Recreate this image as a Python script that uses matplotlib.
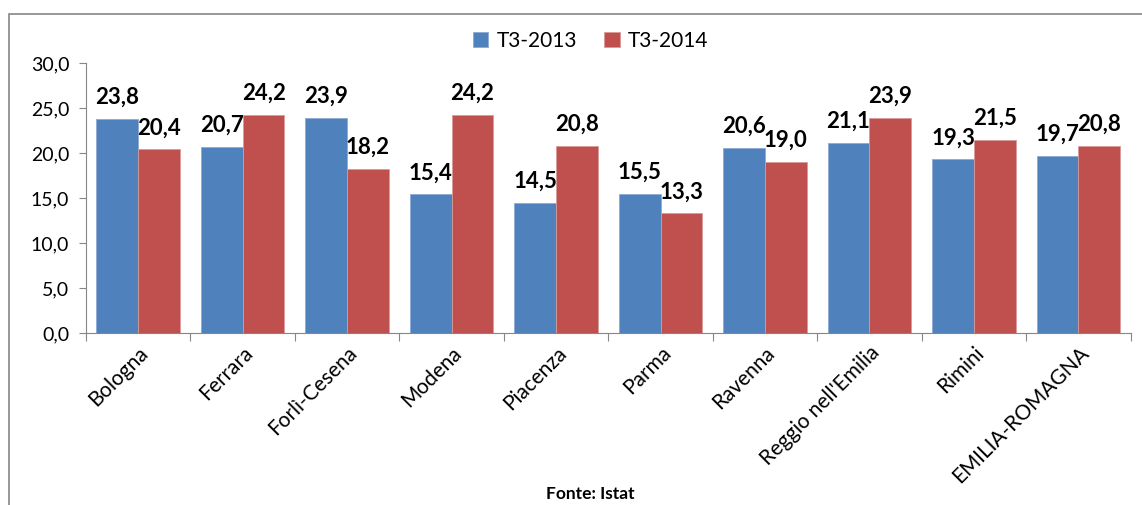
import numpy as np
import matplotlib
matplotlib.use("Agg")
import matplotlib.pyplot as plt
from matplotlib.patches import Rectangle

plt.rcParams['font.family'] = ['Lato', 'DejaVu Sans']

province = ['Bologna', 'Ferrara', 'Forlì-Cesena', 'Modena', 'Piacenza', 'Parma',
            'Ravenna', "Reggio nell'Emilia", 'Rimini', 'EMILIA-ROMAGNA']
t3_2013 = [23.8, 20.7, 23.9, 15.4, 14.5, 15.5, 20.6, 21.1, 19.3, 19.7]
t3_2014 = [20.4, 24.2, 18.2, 24.2, 20.8, 13.3, 19.0, 23.9, 21.5, 20.8]
series = ['T3-2013', 'T3-2014']

blu = '#4F81BD'
rosso = '#C0504D'
grigio = '#868686'

fig = plt.figure(figsize=(11.42, 5.05), dpi=100)
ax = fig.add_axes([0.0753, 0.3406, 0.9147, 0.5344])

x = np.arange(len(province))
w = 0.4
b1 = ax.bar(x - w / 2, t3_2013, w, color=blu, edgecolor='#8EA9D4', linewidth=0.6, label=series[0])
b2 = ax.bar(x + w / 2, t3_2014, w, color=rosso, edgecolor='#D99A98', linewidth=0.6, label=series[1])

for bars, vals in ((b1, t3_2013), (b2, t3_2014)):
    for r, v in zip(bars, vals):
        ax.annotate(f'{v:.1f}'.replace('.', ','),
                    (r.get_x() + r.get_width() / 2, v),
                    xytext=(0, 8), textcoords='offset points',
                    ha='center', va='bottom', fontsize=16, fontweight='bold')

ax.set_xlim(-0.5, len(province) - 0.5)
ax.set_ylim(0, 30)
ax.set_yticks(np.arange(0, 30.1, 5))
ax.set_yticklabels([f'{t:.1f}'.replace('.', ',') for t in np.arange(0, 30.1, 5)], fontsize=14)

# tick tra i gruppi, etichette al centro
ax.set_xticks(np.arange(-0.5, len(province), 1))
ax.set_xticklabels([])
ax.set_xticks(x, minor=True)
ax.set_xticklabels(province, minor=True, rotation=45, ha='right',
                   rotation_mode='anchor', fontsize=15)
ax.tick_params(axis='x', which='minor', length=0, pad=7)
ax.tick_params(axis='x', which='major', length=6, color=grigio, direction='out')
ax.tick_params(axis='y', length=5, color=grigio, direction='out', pad=7)

for s in ['top', 'right']:
    ax.spines[s].set_visible(False)
for s in ['left', 'bottom']:
    ax.spines[s].set_color(grigio)

ax.legend(loc='lower center', bbox_to_anchor=(0.483, 0.975), ncol=2, frameon=False,
          fontsize=15, handlelength=0.75, handleheight=0.75, handletextpad=0.4,
          columnspacing=1.3)

fig.text(0.517, 0.022, 'Fonte: Istat', ha='center', va='center', fontsize=12.5, fontweight='bold')

# cornice del grafico
fig.add_artist(Rectangle((0.008, -0.1), 1.2, 1.072, transform=fig.transFigure,
                         fill=False, edgecolor=grigio, linewidth=1.2))

fig.savefig('out.png', dpi=100)
